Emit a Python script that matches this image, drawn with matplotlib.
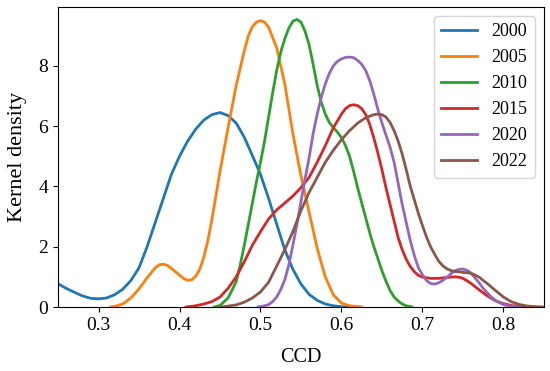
import matplotlib
matplotlib.use("Agg")
import matplotlib.pyplot as plt

plt.rcParams['font.family'] = ['Liberation Serif', 'DejaVu Serif']

# kernel density curves (CCD value, density)
x2000 = [0.25, 0.26, 0.27, 0.28, 0.29, 0.30, 0.31, 0.32, 0.33, 0.34, 0.35, 0.36,
         0.37, 0.38, 0.39, 0.40, 0.41, 0.42, 0.43, 0.44, 0.45, 0.46, 0.47, 0.48,
         0.49, 0.50, 0.51, 0.52, 0.53, 0.54, 0.55, 0.56, 0.57, 0.58, 0.59, 0.60, 0.61]
y2000 = [0.77, 0.62, 0.49, 0.37, 0.29, 0.27, 0.3, 0.41, 0.59, 0.88, 1.3, 2.0,
         2.8, 3.6, 4.4, 5.0, 5.5, 5.9, 6.2, 6.38, 6.45, 6.35, 6.1, 5.63,
         5.02, 4.4, 3.6, 2.75, 1.9, 1.25, 0.76, 0.42, 0.22, 0.1, 0.04, 0.01, 0.0]

x2005 = [0.315, 0.32, 0.33, 0.34, 0.35, 0.36, 0.37, 0.375, 0.38, 0.385, 0.39, 0.40,
         0.405, 0.41, 0.415, 0.42, 0.425, 0.43, 0.435, 0.44, 0.445, 0.45, 0.46, 0.47,
         0.48, 0.485, 0.49, 0.495, 0.50, 0.505, 0.51, 0.52, 0.53, 0.54, 0.55, 0.56,
         0.57, 0.58, 0.59, 0.60, 0.61, 0.625]
y2005 = [0.0, 0.02, 0.1, 0.3, 0.6, 0.97, 1.3, 1.4, 1.42, 1.38, 1.28, 1.06,
         0.95, 0.88, 0.9, 1.02, 1.25, 1.65, 2.2, 2.9, 3.7, 4.5, 5.95, 7.35,
         8.5, 9.0, 9.3, 9.45, 9.5, 9.45, 9.28, 8.6, 7.4, 5.75, 4.35, 3.15,
         1.95, 1.0, 0.4, 0.13, 0.04, 0.0]

x2010 = [0.443, 0.45, 0.46, 0.47, 0.475, 0.48, 0.485, 0.49, 0.495, 0.50, 0.505, 0.51,
         0.515, 0.52, 0.525, 0.53, 0.535, 0.54, 0.545, 0.55, 0.555, 0.56, 0.565, 0.57,
         0.575, 0.58, 0.585, 0.59, 0.595, 0.60, 0.605, 0.61, 0.615, 0.62, 0.625, 0.63,
         0.635, 0.64, 0.645, 0.65, 0.655, 0.66, 0.665, 0.67, 0.675, 0.68, 0.687]
y2010 = [0.0, 0.05, 0.3, 0.84, 1.4, 2.05, 2.75, 3.45, 4.15, 4.8, 5.5, 6.3,
         7.1, 7.85, 8.45, 8.9, 9.25, 9.48, 9.54, 9.45, 9.15, 8.7, 8.05, 7.35,
         6.8, 6.4, 6.12, 5.95, 5.8, 5.62, 5.35, 5.0, 4.5, 3.95, 3.45, 2.95,
         2.45, 2.0, 1.6, 1.2, 0.85, 0.55, 0.33, 0.2, 0.1, 0.04, 0.0]

x2015 = [0.408, 0.42, 0.43, 0.44, 0.45, 0.46, 0.47, 0.48, 0.49, 0.50, 0.51, 0.52,
         0.53, 0.54, 0.55, 0.56, 0.57, 0.58, 0.59, 0.60, 0.605, 0.61, 0.615, 0.62,
         0.625, 0.63, 0.635, 0.64, 0.645, 0.65, 0.655, 0.66, 0.665, 0.67, 0.675, 0.68,
         0.685, 0.69, 0.695, 0.70, 0.71, 0.72, 0.73, 0.74, 0.745, 0.75, 0.755, 0.76,
         0.77, 0.78, 0.79, 0.80, 0.81, 0.825]
y2015 = [0.0, 0.04, 0.1, 0.18, 0.33, 0.62, 1.0, 1.5, 2.05, 2.5, 2.92, 3.22,
         3.45, 3.68, 3.96, 4.3, 4.8, 5.35, 5.95, 6.4, 6.58, 6.68, 6.71, 6.68,
         6.58, 6.38, 6.05, 5.6, 5.1, 4.55, 3.95, 3.4, 2.85, 2.3, 1.9, 1.58,
         1.34, 1.17, 1.05, 0.99, 0.95, 0.95, 0.98, 1.0, 0.99, 0.95, 0.87, 0.78,
         0.57, 0.37, 0.21, 0.11, 0.05, 0.0]

x2020 = [0.497, 0.505, 0.51, 0.515, 0.52, 0.525, 0.53, 0.535, 0.54, 0.545, 0.55, 0.555,
         0.56, 0.565, 0.57, 0.575, 0.58, 0.585, 0.59, 0.595, 0.60, 0.605, 0.61, 0.615,
         0.62, 0.625, 0.63, 0.635, 0.64, 0.645, 0.65, 0.655, 0.66, 0.665, 0.67, 0.675,
         0.68, 0.685, 0.69, 0.695, 0.70, 0.705, 0.71, 0.715, 0.72, 0.725, 0.73, 0.735,
         0.74, 0.745, 0.75, 0.755, 0.76, 0.765, 0.77, 0.775, 0.78, 0.785, 0.79, 0.80,
         0.81, 0.82]
y2020 = [0.0, 0.04, 0.08, 0.18, 0.33, 0.58, 0.9, 1.4, 2.05, 2.75, 3.5, 4.25,
         4.95, 5.75, 6.4, 6.95, 7.4, 7.75, 8.0, 8.15, 8.23, 8.28, 8.29, 8.27,
         8.18, 8.05, 7.84, 7.5, 7.05, 6.55, 6.1, 5.7, 5.3, 4.8, 4.1, 3.4,
         2.8, 2.2, 1.7, 1.3, 1.07, 0.88, 0.78, 0.76, 0.8, 0.88, 0.98, 1.1,
         1.2, 1.25, 1.26, 1.22, 1.12, 0.96, 0.8, 0.62, 0.47, 0.33, 0.22, 0.08,
         0.02, 0.0]

x2022 = [0.452, 0.46, 0.47, 0.48, 0.49, 0.50, 0.51, 0.52, 0.53, 0.54, 0.55, 0.56,
         0.57, 0.58, 0.59, 0.60, 0.61, 0.62, 0.63, 0.64, 0.645, 0.65, 0.655, 0.66,
         0.665, 0.67, 0.675, 0.68, 0.685, 0.69, 0.695, 0.70, 0.705, 0.71, 0.715, 0.72,
         0.725, 0.73, 0.735, 0.74, 0.75, 0.76, 0.765, 0.77, 0.775, 0.78, 0.79, 0.80,
         0.81, 0.82, 0.83, 0.84, 0.85]
y2022 = [0.0, 0.03, 0.07, 0.16, 0.3, 0.5, 0.82, 1.36, 1.9, 2.5, 3.2, 3.8,
         4.3, 4.8, 5.2, 5.55, 5.85, 6.1, 6.28, 6.38, 6.4, 6.38, 6.3, 6.12,
         5.85, 5.5, 5.07, 4.55, 4.0, 3.55, 3.1, 2.7, 2.32, 2.0, 1.75, 1.52,
         1.37, 1.27, 1.21, 1.18, 1.15, 1.12, 1.06, 0.99, 0.88, 0.78, 0.55, 0.33,
         0.17, 0.08, 0.03, 0.01, 0.0]

years = ["2000", "2005", "2010", "2015", "2020", "2022"]
xs = [x2000, x2005, x2010, x2015, x2020, x2022]
ys = [y2000, y2005, y2010, y2015, y2020, y2022]

fig = plt.figure(figsize=(5.5, 3.71), dpi=100)
ax = fig.add_axes([0.1055, 0.1725, 0.8835, 0.8085])

for x, y, lab in zip(xs, ys, years):
    ax.plot(x, y, lw=2, label=lab)

ax.set_xlim(0.25, 0.85)
ax.set_ylim(0, 9.95)
ax.set_xticks([0.3, 0.4, 0.5, 0.6, 0.7, 0.8])
ax.set_yticks([0, 2, 4, 6, 8])
ax.tick_params(labelsize=14)
ax.set_xlabel("CCD", fontsize=14.5, labelpad=10)
ax.set_ylabel("Kernel density", fontsize=16, labelpad=8)
ax.legend(fontsize=13, loc="upper right")

fig.savefig("out.png", dpi=100)
